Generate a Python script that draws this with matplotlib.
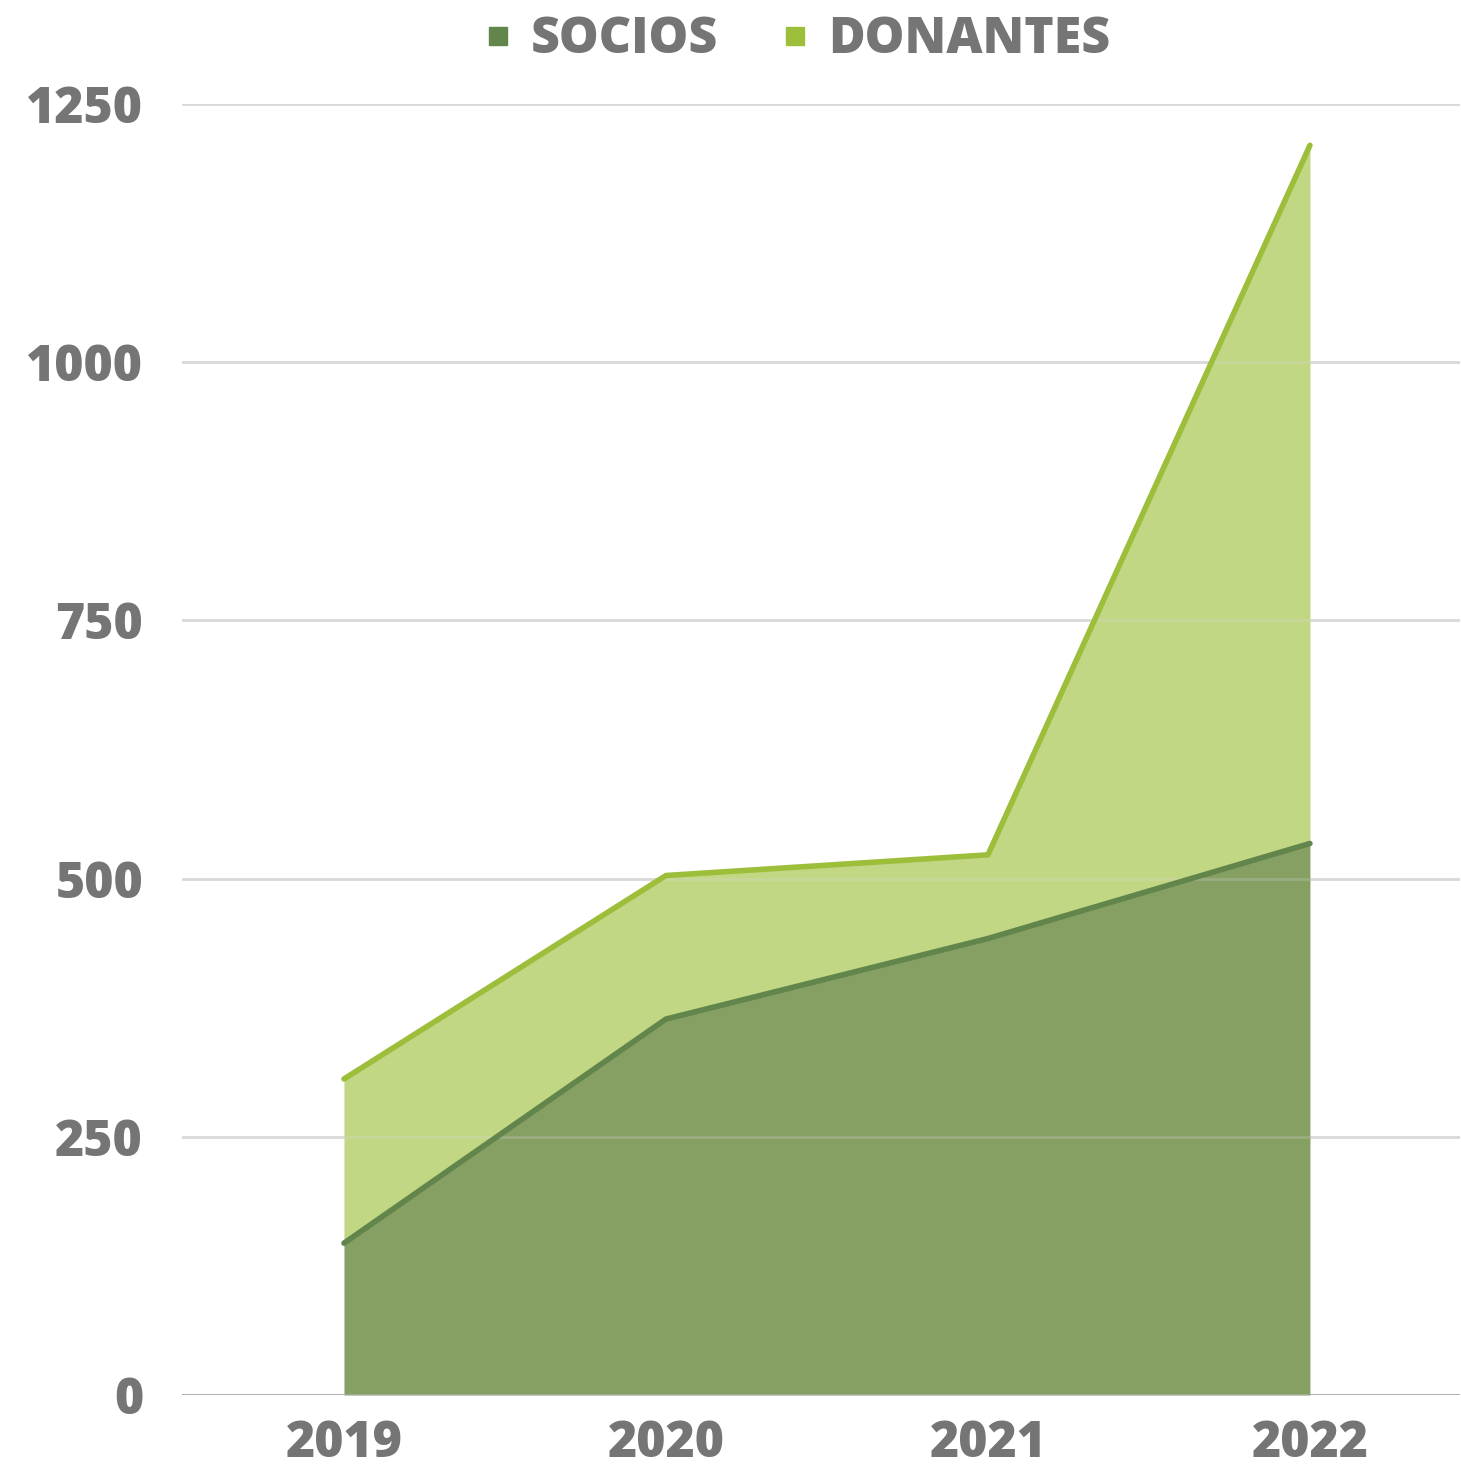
import numpy as np
import matplotlib.pyplot as plt
from matplotlib.lines import Line2D

years = ["2019", "2020", "2021", "2022"]
socios = [147, 364, 442, 534]
donantes = [159, 139, 81, 676]
y_ticks = [0, 250, 500, 750, 1000, 1250]

text_color = "#757575"
socios_fill = "#869f63"
socios_line = "#62854b"
don_fill = "#c1d784"
don_line = "#9dbe3a"

plt.rcParams['font.family'] = ['Open Sans', 'DejaVu Sans']

fig = plt.figure(figsize=(14.61, 14.73), dpi=100)
ax = fig.add_axes([182 / 1461, 1 - 1395 / 1473, (1460 - 182) / 1461, (1395 - 104) / 1473])

x = np.arange(len(years))
socios = np.array(socios)
total = socios + np.array(donantes)

# gridlines behind
for v in y_ticks[1:]:
    ax.axhline(v, color="#d9d9d9", lw=2, zorder=0)
ax.axhline(0, color="#a6a6a6", lw=2, zorder=5)

ax.fill_between(x, 0, socios, color=socios_fill, lw=0, zorder=2)
ax.fill_between(x, socios, total, color=don_fill, lw=0, zorder=2)
ax.plot(x, socios, color=socios_line, lw=4, solid_capstyle="round", zorder=3)
ax.plot(x, total, color=don_line, lw=4, solid_capstyle="round", zorder=3)

# faint gridlines over the fill
for v in y_ticks[1:]:
    ax.axhline(v, color="#d9d9d9", lw=2, alpha=0.25, zorder=2.5)

ax.set_xlim(-0.503, 3.466)
ax.set_ylim(0, 1250)
ax.set_xticks(x)
ax.set_xticklabels(years)
ax.set_yticks(y_ticks)
ax.set_yticklabels([str(v) for v in y_ticks])
ax.tick_params(axis="both", length=0, labelcolor=text_color, labelsize=36)
ax.tick_params(axis="y", pad=28)
ax.tick_params(axis="x", pad=17)
for lab in ax.get_xticklabels() + ax.get_yticklabels():
    lab.set_fontweight(800)
for s in ax.spines.values():
    s.set_visible(False)

handles = [
    Line2D([], [], marker="s", ls="none", markersize=13, color=socios_line, label="SOCIOS"),
    Line2D([], [], marker="s", ls="none", markersize=13, color=don_line, label="DONANTES"),
]
fig.legend(handles=handles, loc="center", bbox_to_anchor=(0.546, 1 - 40 / 1473), ncol=2,
           frameon=False, handlelength=0.5, handletextpad=0.4, columnspacing=1.3,
           prop={"size": 36, "weight": 800}, labelcolor=text_color)

fig.savefig("out.png", dpi=100, facecolor="white")
